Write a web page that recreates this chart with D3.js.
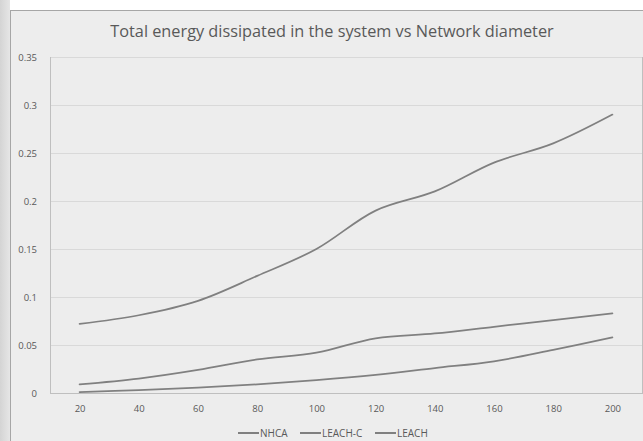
<!DOCTYPE html>
<html>
<head>
<meta charset="utf-8">
<script src="https://cdn.jsdelivr.net/npm/d3@7"></script>
<style>
  body { margin: 0; background: #fff; }
  svg { display: block; }
</style>
</head>
<body>
<svg class="chart"></svg>
<script>
const diameters = [20, 40, 60, 80, 100, 120, 140, 160, 180, 200];
const nhca   = [0.001, 0.003, 0.0055, 0.009, 0.0135, 0.019, 0.026, 0.033, 0.045, 0.058];
const leachC = [0.009, 0.015, 0.024, 0.035, 0.042, 0.057, 0.062, 0.069, 0.076, 0.083];
const leach  = [0.072, 0.081, 0.096, 0.122, 0.15, 0.19, 0.21, 0.24, 0.26, 0.29];
const seriesNames = ['NHCA', 'LEACH-C', 'LEACH'];
const yTicks = [0, 0.05, 0.1, 0.15, 0.2, 0.25, 0.3, 0.35];
const title = 'Total energy dissipated in the system vs Network diameter';

const series = [nhca, leachC, leach].map((vals, i) => ({
	name: seriesNames[i],
	values: vals.map((v, j) => ({ x: diameters[j], y: v }))
}));

const svg = d3.select('.chart')
	.attr('width', 643)
	.attr('height', 441);

let width = +svg.attr('width'),
	height = +svg.attr('height'),
	margin = { top: 57, right: 1, bottom: 48, left: 50 },
	lineColor = '#808080',
	textColor = '#595959';

// page behind the chart
const defs = svg.append('defs');
const grad = defs.append('linearGradient').attr('id', 'side');
grad.append('stop').attr('offset', '0%').attr('stop-color', '#d4d4d4');
grad.append('stop').attr('offset', '100%').attr('stop-color', '#e6e6e6');
svg.append('rect').attr('width', 10).attr('height', height).attr('fill', 'url(#side)');

// chart area
svg.append('rect')
	.attr('x', 10.5).attr('y', 10.5)
	.attr('width', width).attr('height', height)
	.attr('fill', '#ededed')
	.attr('stroke', '#a6a6a6');

const xScale = d3.scalePoint()
	.domain(diameters)
	.range([margin.left, width - margin.right])
	.padding(0.5);

const yScale = d3.scaleLinear()
	.domain([0, 0.35])
	.range([height - margin.bottom, margin.top]);

// gridlines
svg.append('g')
	.selectAll('line')
	.data(yTicks)
	.enter().append('line')
	.attr('x1', margin.left)
	.attr('x2', width - margin.right)
	.attr('y1', d => Math.round(yScale(d)) + 0.5)
	.attr('y2', d => Math.round(yScale(d)) + 0.5)
	.attr('stroke', d => d === 0 ? '#bfbfbf' : '#d9d9d9');

// plot border sides
svg.append('line')
	.attr('x1', margin.left + 0.5).attr('x2', margin.left + 0.5)
	.attr('y1', yScale(0.35)).attr('y2', yScale(0) + 1)
	.attr('stroke', '#bfbfbf');
svg.append('line')
	.attr('x1', width - margin.right + 0.5).attr('x2', width - margin.right + 0.5)
	.attr('y1', yScale(0.35)).attr('y2', yScale(0) + 1)
	.attr('stroke', '#bfbfbf');

const yAxis = d3.axisLeft(yScale)
	.tickValues(yTicks)
	.tickSize(0)
	.tickPadding(13)
	.tickFormat(d => String(+d.toFixed(2)));
const yAxisG = svg.append('g')
	.attr('transform', `translate(${margin.left}, 0)`)
	.call(yAxis);
yAxisG.select('.domain').remove();

const xAxis = d3.axisBottom(xScale)
	.tickSize(0)
	.tickPadding(12);
const xAxisG = svg.append('g')
	.attr('transform', `translate(0, ${height - margin.bottom})`)
	.call(xAxis);
xAxisG.select('.domain').remove();

svg.selectAll('.tick text')
	.attr('fill', textColor)
	.style('font-family', 'Open Sans, sans-serif')
	.style('font-size', '9.5px');

const lineGenerator = d3.line()
	.x(d => xScale(d.x))
	.y(d => yScale(d.y))
	.curve(d3.curveCatmullRom.alpha(0.5));

svg.append('g')
	.selectAll('path')
	.data(series)
	.enter().append('path')
	.attr('d', d => lineGenerator(d.values))
	.attr('fill', 'none')
	.attr('stroke', lineColor)
	.attr('stroke-width', 1.75)
	.attr('stroke-linecap', 'round');

// title
svg.append('text')
	.attr('x', 332)
	.attr('y', 37)
	.attr('text-anchor', 'middle')
	.attr('fill', textColor)
	.style('font-family', 'Open Sans, sans-serif')
	.style('font-size', '16.3px')
	.text(title);

// legend
const legendX = [238, 300, 375];
const legend = svg.append('g')
	.selectAll('g')
	.data(series)
	.enter().append('g')
	.attr('transform', (d, i) => `translate(${legendX[i]}, 433)`);
legend.append('line')
	.attr('x1', 0).attr('x2', 21)
	.attr('stroke', lineColor)
	.attr('stroke-width', 2);
legend.append('text')
	.attr('x', 22)
	.attr('y', 3.5)
	.attr('fill', textColor)
	.style('font-family', 'Open Sans, sans-serif')
	.style('font-size', '10px')
	.text(d => d.name);
</script>
</body>
</html>
